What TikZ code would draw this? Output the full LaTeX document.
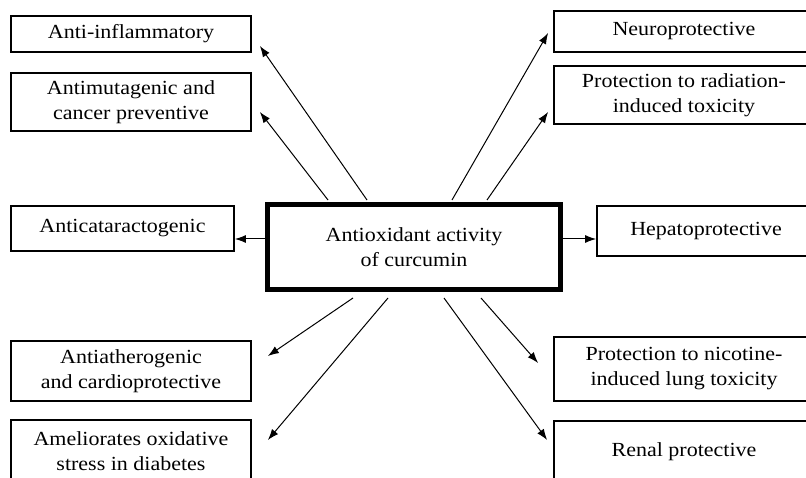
\documentclass[tikz,border=0pt]{standalone}
\usepackage{fontspec}
\setmainfont{Liberation Serif}[FakeStretch=1.1]
\usetikzlibrary{arrows.meta,calc}
\begin{document}
\begin{tikzpicture}[x=1pt,y=-1pt,
  box/.style={draw,line width=1.8pt,inner sep=0pt,align=center,font=\fontsize{20}{25}\selectfont},
  mainbox/.style={draw,line width=5pt,inner sep=0pt,align=center,minimum width=293pt,minimum height=85pt,font=\fontsize{20}{25}\selectfont},
  arr/.style={line width=1pt,-{Latex[length=11pt,width=8pt]}}]
\useasboundingbox (0,0) rectangle (806,478);
\node[mainbox] (c) at (414,247) {Antioxidant activity\\of curcumin};
\node[box,minimum width=240pt,minimum height=36pt] (n1) at (131,34) {Anti-inflammatory};
\node[box,minimum width=240pt,minimum height=58pt] (n2) at (131,102) {Antimutagenic and\\cancer preventive};
\node[box,minimum width=223pt,minimum height=45pt] (n3) at (122.5,228.5) {Anticataractogenic};
\node[box,minimum width=240pt,minimum height=60pt] (n4) at (131,371) {Antiatherogenic\\and cardioprotective};
\node[box,minimum width=240pt,minimum height=62pt] (n5) at (131,451) {Ameliorates oxidative\\stress in diabetes};
\node[box,minimum width=260pt,minimum height=41pt] (r1) at (684,31.5) {Neuroprotective};
\node[box,minimum width=260pt,minimum height=58pt] (r2) at (684,95) {Protection to radiation-\\induced toxicity};
\node[box,minimum width=218pt,minimum height=50pt] (r3) at (706,231) {Hepatoprotective};
\node[box,minimum width=260pt,minimum height=64pt] (r4) at (684,369) {Protection to nicotine-\\induced lung toxicity};
\node[box,minimum width=260pt,minimum height=62pt] (r5) at (684,452) {Renal protective};
% top arrows
\draw[arr] ($(c.north)+(-47,-2)$) -- ($(n1.east)+(8,12)$);
\draw[arr] ($(c.north)+(-86,-2)$) -- ($(n2.east)+(8,10)$);
\draw[arr] ($(c.north)+(38,-2)$) -- ($(r1.west)+(-5,1.5)$);
\draw[arr] ($(c.north)+(73,-2)$) -- ($(r2.west)+(-5,17)$);
% side arrows
\draw[arr] ([yshift=8pt]c.west) -- ([yshift=8pt]c.west -| n3.east);
\draw[arr] ([yshift=8pt]c.east) -- ([yshift=8pt]c.east -| r3.west);
% bottom arrows
\draw[arr] ($(c.south)+(-61,6)$) -- ($(n4.east)+(16,-15)$);
\draw[arr] ($(c.south)+(-26,6)$) -- ($(n5.east)+(16,-11)$);
\draw[arr] ($(c.south)+(30,6)$) -- ($(r5.west)+(-6,-12)$);
\draw[arr] ($(c.south)+(67,6)$) -- ($(r4.west)+(-15,-6)$);
\end{tikzpicture}
\end{document}
